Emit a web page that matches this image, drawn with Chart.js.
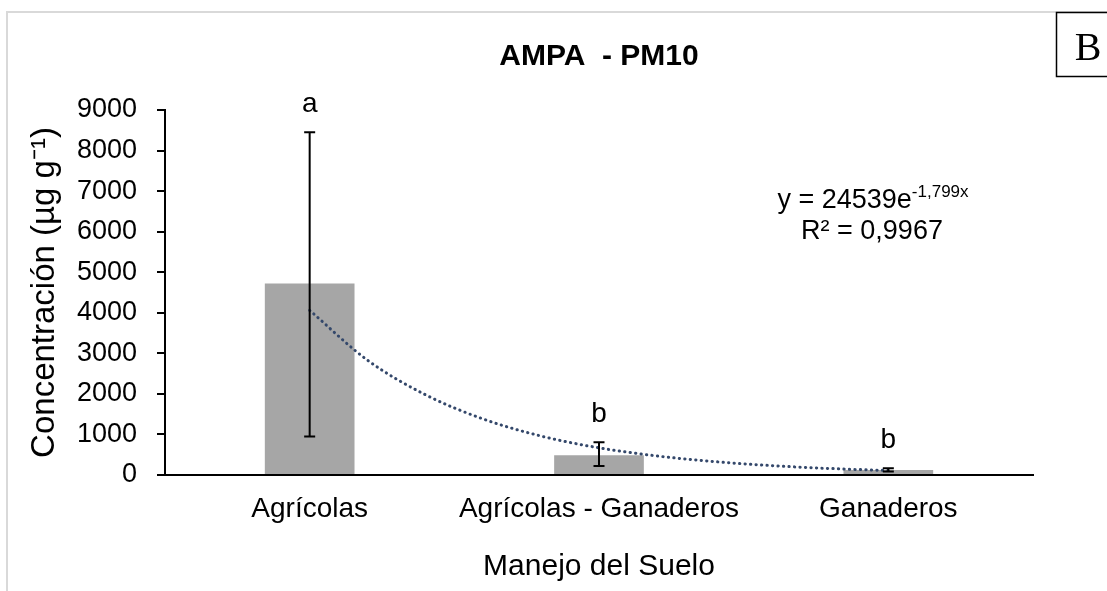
<!DOCTYPE html>
<html>
<head>
<meta charset="utf-8">
<script src="https://cdn.jsdelivr.net/npm/chart.js@4.4.1/dist/chart.umd.min.js"></script>
<style>
  html, body { margin: 0; padding: 0; background: #ffffff; }
  #wrap { width: 1107px; height: 591px; position: relative; }
</style>
</head>
<body>
<div id="wrap"><canvas id="c" width="1107" height="591"></canvas></div>
<script>
// ---- data ----
const categories = ['Agrícolas', 'Agrícolas - Ganaderos', 'Ganaderos'];
const barValues = [4720, 487, 124];
const errLow = [950, 223, 84];
const errHigh = [8450, 809, 164];
const letters = ['a', 'b', 'b'];
const yTicks = [0, 1000, 2000, 3000, 4000, 5000, 6000, 7000, 8000, 9000];
// exponential trend line
const trendX = [1, 1.2, 1.4, 1.6, 1.8, 2, 2.2, 2.4, 2.6, 2.8, 3];
const trendY = [4060, 2830, 1980, 1380, 960, 670, 470, 330, 230, 160, 110];
const titleText = 'AMPA  - PM10';
const xTitle = 'Manejo del Suelo';
const yTitle = 'Concentración (µg g⁻¹)';
const eqMain = 'y = 24539e';
const eqSup = '-1,799x';
const eqR2 = 'R² = 0,9967';
const panelLetter = 'B';

const FONT = "'Liberation Sans', Arial, sans-serif";

const extras = {
  id: 'extras',
  beforeDraw(chart) {
    const ctx = chart.ctx;
    ctx.save();
    ctx.fillStyle = '#ffffff';
    ctx.fillRect(0, 0, chart.width, chart.height);
    ctx.restore();
  },
  afterDatasetsDraw(chart) {
    const ctx = chart.ctx;
    const xs = chart.scales.x, ys = chart.scales.y;
    ctx.save();
    ctx.strokeStyle = '#000000';
    ctx.lineWidth = 2;
    for (let i = 0; i < categories.length; i++) {
      const x = xs.getPixelForValue(i);
      const yl = ys.getPixelForValue(errLow[i]);
      const yh = ys.getPixelForValue(errHigh[i]);
      ctx.beginPath();
      ctx.moveTo(x, yl); ctx.lineTo(x, yh);
      ctx.moveTo(x - 5.5, yl); ctx.lineTo(x + 5.5, yl);
      ctx.moveTo(x - 5.5, yh); ctx.lineTo(x + 5.5, yh);
      ctx.stroke();
      ctx.fillStyle = '#000000';
      ctx.font = '28px ' + FONT;
      ctx.textAlign = 'center';
      ctx.textBaseline = 'alphabetic';
      ctx.fillText(letters[i], x, yh - 20);
    }
    ctx.restore();
  },
  afterDraw(chart) {
    const ctx = chart.ctx;
    ctx.save();
    // outer light border
    ctx.strokeStyle = '#d9d9d9';
    ctx.lineWidth = 2;
    ctx.beginPath();
    ctx.moveTo(7, chart.height);
    ctx.lineTo(7, 12);
    ctx.lineTo(chart.width, 12);
    ctx.stroke();
    // panel box
    ctx.strokeStyle = '#000000';
    ctx.lineWidth = 1.5;
    ctx.strokeRect(1056.5, 12.5, 60, 64);
    ctx.fillStyle = '#000000';
    ctx.font = "40px 'Liberation Serif', 'Times New Roman', serif";
    ctx.textAlign = 'center';
    ctx.textBaseline = 'alphabetic';
    ctx.fillText(panelLetter, 1088, 60);
    // equation
    ctx.textAlign = 'left';
    ctx.font = '27px ' + FONT;
    const wMain = ctx.measureText(eqMain).width;
    ctx.font = '17px ' + FONT;
    const wSup = ctx.measureText(eqSup).width;
    const cx = 873;
    const x0 = cx - (wMain + wSup) / 2;
    ctx.font = '27px ' + FONT;
    ctx.fillText(eqMain, x0, 208);
    ctx.font = '17px ' + FONT;
    ctx.fillText(eqSup, x0 + wMain, 197);
    ctx.font = '27px ' + FONT;
    ctx.textAlign = 'center';
    ctx.fillText(eqR2, 872, 239);
    ctx.restore();
  }
};

new Chart(document.getElementById('c'), {
  type: 'bar',
  data: {
    labels: categories,
    datasets: [
      {
        type: 'line',
        data: trendX.map((v, i) => ({ x: v, y: trendY[i] })),
        xAxisID: 'xt',
        yAxisID: 'y',
        borderColor: '#34486b',
        borderWidth: 3,
        borderDash: [0.3, 5.2],
        borderCapStyle: 'round',
        pointRadius: 0,
        fill: false,
        cubicInterpolationMode: 'monotone',
        order: 0
      },
      {
        type: 'bar',
        data: barValues,
        xAxisID: 'x',
        yAxisID: 'y',
        grouped: false,
        backgroundColor: '#a6a6a6',
        borderWidth: 0,
        barPercentage: 0.31,
        categoryPercentage: 1,
        order: 1
      }
    ]
  },
  options: {
    responsive: false,
    animation: false,
    devicePixelRatio: 1,
    layout: { padding: { left: 0, right: 74, top: 0, bottom: 0 } },
    plugins: {
      legend: { display: false },
      tooltip: { enabled: false },
      title: {
        display: true,
        text: titleText,
        fullSize: false,
        color: '#000000',
        font: { family: FONT, size: 30, weight: 'bold' },
        padding: { top: 39, bottom: 35 }
      }
    },
    scales: {
      x: {
        type: 'category',
        offset: true,
        grid: { display: false, drawTicks: false },
        border: { display: true, color: '#000000', width: 2 },
        ticks: { color: '#000000', font: { family: FONT, size: 28 }, padding: 17, maxRotation: 0 },
        title: { display: true, text: xTitle, color: '#000000', font: { family: FONT, size: 30 }, padding: { top: 0, bottom: 6 } },
        afterFit(s) { s.height = 116; }
      },
      xt: {
        type: 'linear',
        display: false,
        offset: false,
        grid: { offset: false },
        min: 0.5,
        max: 3.5
      },
      y: {
        min: 0,
        max: 9000,
        afterBuildTicks(s) { s.ticks = yTicks.map(v => ({ value: v })); },
        grid: { drawOnChartArea: false, drawTicks: true, tickLength: 8, color: '#000000', lineWidth: 2 },
        border: { display: true, color: '#000000', width: 2 },
        ticks: { color: '#000000', font: { family: FONT, size: 27 }, padding: 20, callback: v => String(v) },
        title: { display: true, text: yTitle, color: '#000000', font: { family: FONT, size: 33 }, padding: { top: 25, bottom: 0 } },
        afterFit(s) { s.width = 165; }
      }
    }
  },
  plugins: [extras]
});
</script>
</body>
</html>
